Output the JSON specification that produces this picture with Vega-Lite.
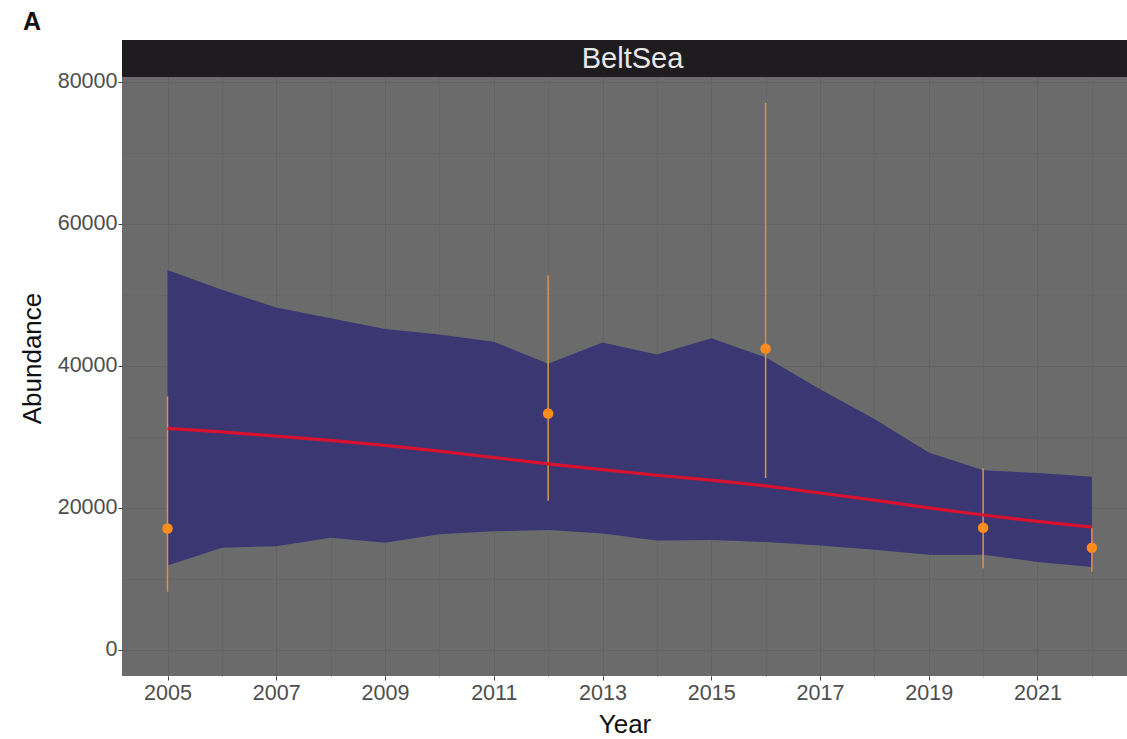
{
  "$schema": "https://vega.github.io/schema/vega-lite/v6.json",
  "width": 1005,
  "height": 636,
  "autosize": "none",
  "padding": {"left": 122, "top": 40, "right": 0, "bottom": 63},
  "background": "white",
  "title": {"text": "A", "anchor": "start", "frame": "group", "dx": -99, "offset": 5, "fontSize": 25, "fontWeight": 900, "font": "Liberation Sans", "color": "#111111"},
  "config": {
    "font": "Liberation Sans",
    "view": {"fill": "#6c6b6c", "stroke": null}
  },
  "datasets": {
    "ribbon": [
      {"Year": 2005, "lower": 11900, "upper": 53500, "fit": 31200},
      {"Year": 2006, "lower": 14400, "upper": 50700, "fit": 30700},
      {"Year": 2007, "lower": 14600, "upper": 48200, "fit": 30100},
      {"Year": 2008, "lower": 15800, "upper": 46700, "fit": 29500},
      {"Year": 2009, "lower": 15100, "upper": 45200, "fit": 28800},
      {"Year": 2010, "lower": 16300, "upper": 44400, "fit": 28000},
      {"Year": 2011, "lower": 16700, "upper": 43400, "fit": 27100},
      {"Year": 2012, "lower": 16900, "upper": 40300, "fit": 26200},
      {"Year": 2013, "lower": 16400, "upper": 43300, "fit": 25400},
      {"Year": 2014, "lower": 15400, "upper": 41600, "fit": 24600},
      {"Year": 2015, "lower": 15500, "upper": 43900, "fit": 23900},
      {"Year": 2016, "lower": 15200, "upper": 41200, "fit": 23100},
      {"Year": 2017, "lower": 14700, "upper": 36700, "fit": 22100},
      {"Year": 2018, "lower": 14100, "upper": 32500, "fit": 21100},
      {"Year": 2019, "lower": 13400, "upper": 27800, "fit": 20000},
      {"Year": 2020, "lower": 13400, "upper": 25300, "fit": 19000},
      {"Year": 2021, "lower": 12400, "upper": 24900, "fit": 18100},
      {"Year": 2022, "lower": 11700, "upper": 24400, "fit": 17300}
    ],
    "obs": [
      {"Year": 2005, "Abundance": 17100, "lo": 8200, "hi": 35700},
      {"Year": 2012, "Abundance": 33300, "lo": 21000, "hi": 52700},
      {"Year": 2016, "Abundance": 42400, "lo": 24200, "hi": 77000},
      {"Year": 2020, "Abundance": 17200, "lo": 11500, "hi": 25600},
      {"Year": 2022, "Abundance": 14400, "lo": 11000, "hi": 17200}
    ],
    "strip": [{"panel": "BeltSea"}]
  },
  "layer": [
    {
      "data": {"name": "ribbon"},
      "mark": {"type": "area", "color": "#3b3773", "opacity": 1},
      "encoding": {
        "x": {
          "field": "Year", "type": "quantitative",
          "scale": {"domain": [2004.163, 2022.646], "nice": false, "zero": false},
          "axis": {
            "title": "Year",
            "values": [2005, 2006, 2007, 2008, 2009, 2010, 2011, 2012, 2013, 2014, 2015, 2016, 2017, 2018, 2019, 2020, 2021, 2022],
            "format": "d",
            "labelExpr": "datum.value % 2 == 1 ? datum.label : ''",
            "labelFontSize": 21.5,
            "labelColor": "#4d4d4d",
            "labelPadding": 2,
            "tickSize": 4,
            "tickColor": "#444444",
            "tickOpacity": {"expr": "datum.value % 2 == 1 ? 1 : 0"},
            "domain": false,
            "grid": true,
            "gridColor": {"expr": "datum.value % 2 == 1 ? '#646364' : '#676667'"},
            "gridWidth": 1,
            "titleFontSize": 26,
            "titleFontWeight": "normal",
            "titleColor": "#111111",
            "titlePadding": 8
          }
        },
        "y": {
          "field": "lower", "type": "quantitative",
          "scale": {"domain": [-3660, 85867], "nice": false, "zero": false},
          "axis": {
            "title": "Abundance",
            "values": [0, 10000, 20000, 30000, 40000, 50000, 60000, 70000, 80000],
            "format": "d",
            "labelExpr": "datum.value % 20000 == 0 ? datum.label : ''",
            "labelFontSize": 21.5,
            "labelColor": "#4d4d4d",
            "labelPadding": 1,
            "tickSize": 4,
            "tickColor": "#444444",
            "tickOpacity": {"expr": "datum.value % 20000 == 0 ? 1 : 0"},
            "domain": false,
            "grid": true,
            "gridColor": {"expr": "datum.value % 20000 == 0 ? '#646364' : '#676667'"},
            "gridWidth": 1,
            "titleFontSize": 26,
            "titleFontWeight": "normal",
            "titleColor": "#111111",
            "titlePadding": 12
          }
        },
        "y2": {"field": "upper"}
      }
    },
    {
      "data": {"name": "obs"},
      "mark": {"type": "rule", "color": "#e0914a", "strokeWidth": 1.5},
      "encoding": {
        "x": {"field": "Year", "type": "quantitative", "title": "Year"},
        "y": {"field": "lo", "type": "quantitative", "title": "Abundance"},
        "y2": {"field": "hi"}
      }
    },
    {
      "data": {"name": "ribbon"},
      "mark": {"type": "line", "color": "#d7112e", "strokeWidth": 3.2},
      "encoding": {
        "x": {"field": "Year", "type": "quantitative", "title": "Year"},
        "y": {"field": "fit", "type": "quantitative", "title": "Abundance"}
      }
    },
    {
      "data": {"name": "obs"},
      "mark": {"type": "point", "filled": true, "color": "#ff8c1a", "opacity": 1, "size": 110},
      "encoding": {
        "x": {"field": "Year", "type": "quantitative", "title": "Year"},
        "y": {"field": "Abundance", "type": "quantitative", "title": "Abundance"}
      }
    },
    {
      "data": {"name": "strip"},
      "mark": {"type": "rect", "color": "#1e1c1e"},
      "encoding": {
        "y": {"datum": 80658, "type": "quantitative", "title": "Abundance"},
        "y2": {"datum": 85867}
      }
    },
    {
      "data": {"name": "strip"},
      "mark": {"type": "text", "color": "#e8e8e8", "fontSize": 29, "baseline": "middle", "align": "center", "dx": 8},
      "encoding": {
        "y": {"datum": 83262, "type": "quantitative", "title": "Abundance"},
        "text": {"field": "panel"}
      }
    }
  ]
}
